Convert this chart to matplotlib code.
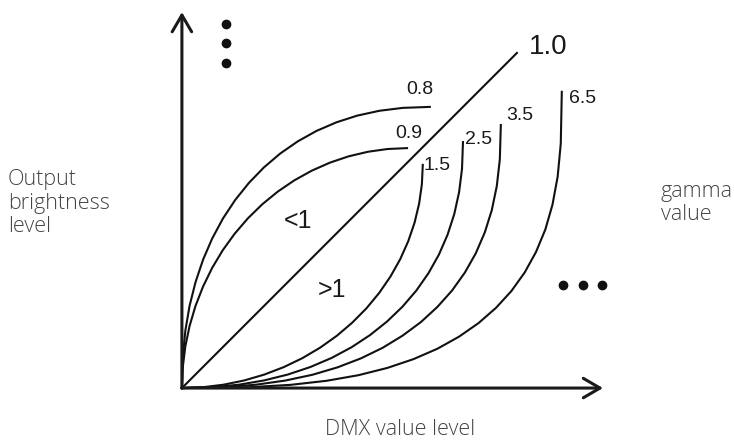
import matplotlib.pyplot as plt

plt.rcParams['font.family'] = ['Liberation Sans', 'DejaVu Sans']

# curves: DMX level (%) vs output brightness (%)
linear_x = [0, 100]
linear_y = [0, 100]

g08_x = [0, 0.25, 1.02, 2.29, 4.07, 6.33, 9.07, 12.27, 15.92, 20.0,
         24.49, 29.35, 34.59, 40.17, 46.1, 52.35, 58.93, 65.94, 74.0]
g08_y = [0, 9.14, 17.08, 24.55, 31.63, 38.35, 44.69, 50.63, 56.14, 61.22,
         65.85, 69.99, 73.62, 76.73, 79.29, 81.3, 82.74, 83.61, 83.9]

g09_x = [0, 0.26, 1.02, 2.29, 4.05, 6.30, 9.00, 12.15, 15.72, 19.68,
         24.0, 28.65, 33.6, 38.8, 44.22, 49.81, 55.53, 61.34, 67.2]
g09_y = [0, 6.24, 12.43, 18.53, 24.49, 30.26, 35.8, 41.07, 46.02, 50.63,
         54.85, 58.65, 62.01, 64.89, 67.28, 69.16, 70.51, 71.33, 71.6]

g15_x = [0, 6.27, 12.48, 18.61, 24.59, 30.38, 35.95, 41.24, 46.22, 50.84,
         55.08, 58.9, 62.27, 65.16, 67.56, 69.45, 70.81, 71.63, 71.9]
g15_y = [0, 0.25, 1.01, 2.27, 4.02, 6.24, 8.92, 12.04, 15.58, 19.51,
         23.79, 28.4, 33.3, 38.45, 43.82, 49.36, 55.04, 60.79, 66.6]

g25_x = [0, 9.14, 17.08, 24.55, 31.63, 38.35, 44.69, 50.63, 56.14, 61.22,
         65.85, 69.99, 73.62, 76.73, 79.29, 81.3, 82.74, 83.61, 83.9]
g25_y = [0, 0.25, 1.01, 2.28, 4.04, 6.28, 8.99, 12.17, 15.8, 19.84,
         24.29, 29.11, 34.31, 39.85, 45.73, 51.92, 58.46, 65.41, 73.4]

g35_x = [0, 12.47, 22.13, 30.87, 38.94, 46.46, 53.44, 59.92, 65.87, 71.33,
         76.24, 80.63, 84.45, 87.71, 90.39, 92.49, 93.99, 94.9, 95.2]
g35_y = [0, 0.25, 1.0, 2.24, 3.96, 6.18, 8.86, 12.01, 15.64, 19.68,
         24.19, 29.09, 34.44, 40.19, 46.39, 53.04, 60.25, 68.22, 78.5]

g65_x = [0, 19.87, 32.49, 43.19, 52.71, 61.3, 69.13, 76.26, 82.71, 88.54,
         93.74, 98.35, 102.33, 105.7, 108.48, 110.62, 112.16, 113.09, 113.4]
g65_y = [0, 0.24, 0.96, 2.17, 3.84, 6.0, 8.63, 11.73, 15.33, 19.38,
         23.92, 28.95, 34.51, 40.61, 47.31, 54.73, 63.07, 72.91, 88.4]

gamma_labels = ['0.8', '0.9', '1.5', '2.5', '3.5', '6.5']
curves = [(g08_x, g08_y), (g09_x, g09_y), (g15_x, g15_y),
          (g25_x, g25_y), (g35_x, g35_y), (g65_x, g65_y)]
label_pos = [(71.0, 89.0), (67.8, 76.0), (76.3, 66.4),
             (88.5, 74.2), (100.9, 81.3), (119.7, 86.4)]

x_axis_end = 125.7
y_axis_end = 112.2

fig = plt.figure(figsize=(7.34, 4.41), dpi=100)
ax = fig.add_axes([0, 0, 1, 1])
ax.set_xlim(-54.3, 164.8)
ax.set_ylim(-15.8, 115.8)
ax.axis('off')

# axes with open arrow heads
arrow = dict(arrowstyle='->,head_length=1.2,head_width=0.7', lw=2.2,
             color='#1a1a1a', shrinkA=0, shrinkB=0, mutation_scale=10)
ax.annotate('', xy=(0, y_axis_end), xytext=(0, 0), arrowprops=arrow)
ax.annotate('', xy=(x_axis_end, 0), xytext=(0, 0), arrowprops=arrow)

ax.plot(linear_x, linear_y, color='#111111', lw=1.5)
for (cx, cy), lab, (lx, ly) in zip(curves, gamma_labels, label_pos):
    ax.plot(cx, cy, color='#111111', lw=1.5, solid_joinstyle='round')
    ax.text(lx, ly, lab, fontsize=14, ha='center', va='center', color='#1a1a1a')

ax.text(109.3, 101.8, '1.0', fontsize=20, ha='center', va='center', color='#1a1a1a')
ax.text(34.6, 49.9, '<1', fontsize=18, ha='center', va='center', color='#1a1a1a')
ax.text(44.8, 29.3, '>1', fontsize=18, ha='center', va='center', color='#1a1a1a')

# ellipsis dots
ax.plot([13.1, 13.1, 13.1], [108.7, 103.0, 97.0], 'o', color='#111111', ms=6)
ax.plot([113.7, 119.7, 125.4], [30.7, 30.7, 30.7], 'o', color='#111111', ms=6)

grey = '#444444'
side = dict(fontsize=15.5, color=grey, family=['Open Sans', 'DejaVu Sans'],
            fontweight='light')
ax.text(-51.9, 55.2, 'Output\nbrightness\nlevel', ha='left', va='center',
        linespacing=1.15, **side)
ax.text(143.0, 55.2, 'gamma\nvalue', ha='left', va='center',
        linespacing=1.15, **side)
ax.text(65.1, -12.5, 'DMX value level', ha='center', va='center', **side)

fig.savefig('out.png', dpi=100)
